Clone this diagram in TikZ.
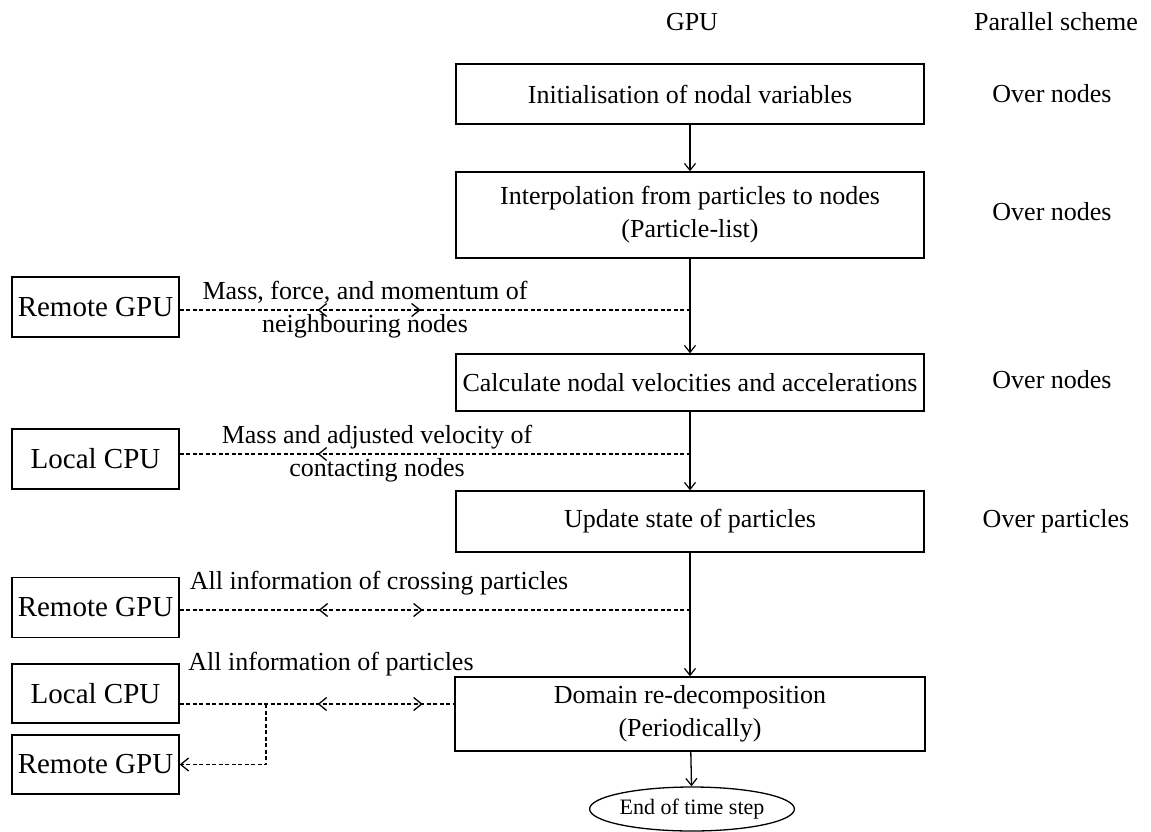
\documentclass[tikz,border=0pt]{standalone}
\usepackage{fontspec}
\setmainfont{Liberation Serif}
\usetikzlibrary{arrows.meta,shapes.geometric,decorations.markings}
\tikzset{
  barb/.tip={Straight Barb[length=7pt,width=11pt,line width=1.2pt]},
  midbarb/.tip={Straight Barb[length=8pt,width=13pt,line width=1.3pt]},
  mainbox/.style={draw,line width=1.3pt,minimum width=468pt,align=center,inner sep=2pt,font=\fontsize{26}{33}\selectfont},
  sidebox/.style={draw,line width=1.3pt,minimum width=167pt,minimum height=60pt,inner sep=2pt,font=\fontsize{29}{34}\selectfont},
  lbl/.style={align=center,inner sep=0pt,font=\fontsize{26}{33}\selectfont},
  arr/.style={line width=1.3pt,-barb},
  dline/.style={line width=1.2pt,dash pattern=on 4pt off 2.5pt},
  twoway/.style 2 args={postaction={decorate},decoration={markings,
    mark=at position #1 with {\arrowreversed{midbarb}},
    mark=at position #2 with {\arrow{midbarb}}}},
  oneway/.style={postaction={decorate},decoration={markings,
    mark=at position #1 with {\arrowreversed{midbarb}}}},
}
\begin{document}
\begin{tikzpicture}[x=1pt,y=-1pt]
\useasboundingbox (0,0) rectangle (1151,832);
% titles
\node[lbl] (tgpu) at (692,22) {GPU};
\node[lbl] (tps) at (1056,22) {Parallel scheme};
% main column
\node[mainbox,minimum height=60pt] (b1) at (690,94) {Initialisation of nodal variables};
\node[mainbox,minimum height=86pt] (b2) at (690,215) {Interpolation from particles to nodes\\(Particle-list)};
\node[mainbox,minimum height=57pt] (b3) at (690,382.5) {Calculate nodal velocities and accelerations};
\node[mainbox,minimum height=61pt] (b4) at (690,521.5) {Update state of particles};
\node[mainbox,minimum height=74pt,minimum width=470pt] (b5) at (690,714) {Domain re-decomposition\\(Periodically)};
\node[draw,ellipse,line width=1.3pt,minimum width=186pt,minimum height=44pt,inner sep=0pt,font=\fontsize{22}{26}\selectfont] (end) at (692,809) {End of time step};
% right column
\node[lbl] (s1) at (1052,94) {Over nodes};
\node[lbl] (s2) at (1052,212) {Over nodes};
\node[lbl] (s3) at (1052,380) {Over nodes};
\node[lbl] (s4) at (1056,521) {Over particles};
% side boxes
\node[sidebox] (r1) at (95.5,307) {Remote GPU};
\node[sidebox] (l1) at (95.5,459) {Local CPU};
\node[sidebox] (r2) at (95.5,607.5) {Remote GPU};
\node[sidebox,minimum height=59pt] (l2) at (95.5,693.5) {Local CPU};
\node[sidebox,minimum height=59pt] (r3) at (95.5,764.5) {Remote GPU};
% labels
\node[lbl] (t1) at (365,310) {Mass, force, and momentum of\\neighbouring nodes};
\node[lbl] (t2) at (377,453.5) {Mass and adjusted velocity of\\contacting nodes};
\node[lbl] (t3) at (379,583) {All information of crossing particles};
\node[lbl] (t4) at (331,664) {All information of particles};
% junction coordinates
\coordinate (j1) at (690,310);
\coordinate (j2) at (690,454);
\coordinate (j3) at (690,610);
\coordinate (j4) at (266,704);
% main flow
\draw[arr] (b1) -- (b2);
\draw[arr] (b2) -- (b3);
\draw[arr] (b3) -- (b4);
\draw[arr] (b4) -- (b5);
\draw[arr] (b5) -- (end);
% dashed exchanges
\draw[dline,twoway={138pt}{241pt}] (r1.east |- j1) -- (j1);
\draw[dline,oneway={138pt}] (l1.east |- j2) -- (j2);
\draw[dline,twoway={139pt}{243pt}] (r2.east |- j3) -- (j3);
\draw[dline,twoway={138pt}{243pt}] (l2.east |- j4) -- (b5.west |- j4);
\draw[dline,-midbarb] (j4) |- (r3.east);
\end{tikzpicture}
\end{document}
